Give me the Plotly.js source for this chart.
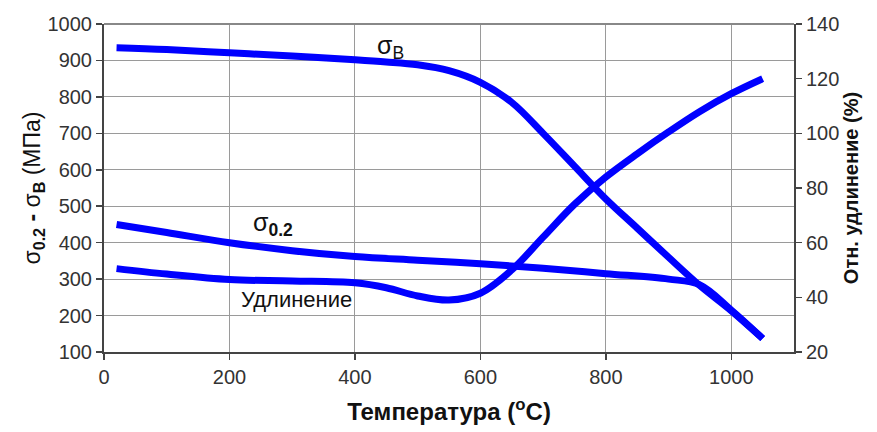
<!DOCTYPE html>
<html>
<head>
<meta charset="utf-8">
<script src="https://cdn.plot.ly/plotly-3.0.1.min.js"></script>
<style>html,body{margin:0;padding:0;background:#fff;}#chart{width:877px;height:432px;}</style>
</head>
<body>
<div id="chart"></div>
<script>
// Temperatures (°C)
const tempB = [20, 100, 200, 300, 400, 450, 500, 550, 600, 650, 700, 750, 800, 850, 900, 950, 1000, 1050];
const sigmaB = [935, 930, 921, 912, 902, 896, 888, 872, 840, 785, 700, 610, 520, 440, 360, 282, 213, 137];

const temp02 = [20, 100, 200, 300, 400, 500, 600, 700, 800, 900, 950, 1000, 1050];
const sigma02 = [450, 428, 400, 378, 362, 352, 342, 330, 315, 300, 284, 215, 137];

const tempEl = [20, 100, 200, 300, 400, 450, 500, 550, 600, 650, 700, 750, 800, 850, 900, 950, 1000, 1050];
const elong = [50.5, 48.5, 46.5, 46, 45.3, 43.5, 40.5, 39, 41.5, 50, 62, 74, 84, 92.5, 100.5, 108, 114.5, 120];

const xTicks = [0, 200, 400, 600, 800, 1000];
const yLeftTicks = [100, 200, 300, 400, 500, 600, 700, 800, 900, 1000];
const yRightTicks = [20, 40, 60, 80, 100, 120, 140];

const blue = 'rgb(0,0,255)';
const lineStyle = {color: blue, width: 7, shape: 'spline', smoothing: 1};

const traces = [
  {x: tempB, y: sigmaB, mode: 'lines', line: lineStyle, yaxis: 'y', hoverinfo: 'skip'},
  {x: temp02, y: sigma02, mode: 'lines', line: lineStyle, yaxis: 'y', hoverinfo: 'skip'},
  {x: tempEl, y: elong, mode: 'lines', line: lineStyle, yaxis: 'y2', hoverinfo: 'skip'}
];

const font = 'Liberation Sans, Arial, sans-serif';
const layout = {
  width: 877, height: 432,
  margin: {l: 104, r: 83, t: 24, b: 80},
  paper_bgcolor: '#fff', plot_bgcolor: '#fff',
  showlegend: false,
  font: {family: font, color: '#222', size: 20},
  xaxis: {
    range: [0, 1100], tickvals: xTicks, ticktext: xTicks.map(String),
    showgrid: true, gridcolor: '#9a9a9a', gridwidth: 1,
    showline: true, linecolor: '#444', linewidth: 2, mirror: false,
    ticks: 'outside', ticklen: 6, tickcolor: '#444', tickwidth: 1.5,
    zeroline: false, tickfont: {size: 20, color: '#333'},
    title: {text: '<b>Температура (<sup>o</sup>C)</b>', font: {size: 24, color: '#111'}, standoff: 16}
  },
  yaxis: {
    range: [100, 1000], tickvals: yLeftTicks, ticktext: yLeftTicks.map(String),
    showgrid: true, gridcolor: '#9a9a9a', gridwidth: 1,
    showline: true, linecolor: '#444', linewidth: 2,
    ticks: 'outside', ticklen: 6, tickcolor: '#444', tickwidth: 1.5,
    zeroline: false, tickfont: {size: 20, color: '#333'},
    title: {text: 'σ<sub><b>0.2</b></sub> <b>-</b> σ<sub><b>B</b></sub> (МПа)', font: {size: 23, color: '#111'}, standoff: 0}
  },
  yaxis2: {
    range: [20, 140], tickvals: yRightTicks, ticktext: yRightTicks.map(String),
    overlaying: 'y', side: 'right', showgrid: false,
    showline: true, linecolor: '#444', linewidth: 2,
    ticks: 'outside', ticklen: 6, tickcolor: '#444', tickwidth: 1.5,
    zeroline: false, tickfont: {size: 20, color: '#333'},
    title: {text: '<b>Отн. удлинение (%)</b>', font: {size: 20, color: '#111'}, standoff: 6}
  },
  shapes: [
    {type: 'line', xref: 'paper', yref: 'paper', x0: 0, x1: 1, y0: 1, y1: 1, line: {color: '#888', width: 2}}
  ],
  annotations: [
    {x: 432, y: 937, xref: 'x', yref: 'y', xanchor: 'left', yanchor: 'middle', text: 'σ<sub>B</sub>', showarrow: false, font: {size: 25, color: '#111'}},
    {x: 234, y: 450, xref: 'x', yref: 'y', xanchor: 'left', yanchor: 'middle', text: 'σ<sub><b>0.2</b></sub>', showarrow: false, font: {size: 25, color: '#111'}},
    {x: 216, y: 243, xref: 'x', yref: 'y', xanchor: 'left', yanchor: 'middle', text: 'Удлинение', showarrow: false, font: {size: 22, color: '#111'}}
  ]
};

Plotly.newPlot('chart', traces, layout, {displayModeBar: false, staticPlot: true});
</script>
</body>
</html>
